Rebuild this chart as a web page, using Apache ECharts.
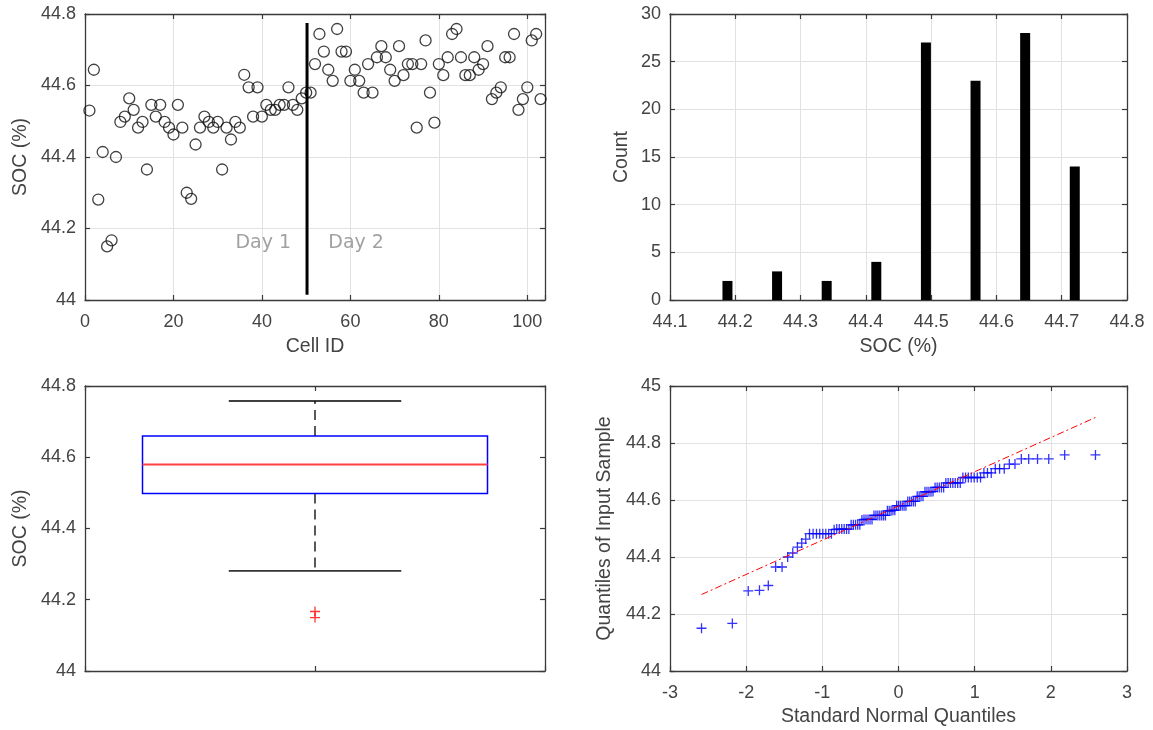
<!DOCTYPE html>
<html>
<head>
<meta charset="utf-8">
<script src="https://cdn.jsdelivr.net/npm/echarts@6/dist/echarts.min.js"></script>
<style>
html,body{margin:0;padding:0;background:#fff;}
#chart{width:1153px;height:730px;}
</style>
</head>
<body>
<div id="chart"></div>
<script>
// ---------------- DATA ----------------
// SOC (%) of each cell, Cell ID = 1..103 in order
const socValues = [
  44.530, 44.644, 44.281, 44.414, 44.150, 44.167, 44.400, 44.498, 44.513, 44.564,
  44.532, 44.482, 44.498, 44.365, 44.546, 44.513, 44.546, 44.498, 44.482, 44.463,
  44.546, 44.482, 44.300, 44.283, 44.435, 44.482, 44.513, 44.498, 44.482, 44.498,
  44.365, 44.482, 44.449, 44.498, 44.482, 44.630, 44.595, 44.513, 44.595, 44.513,
  44.546, 44.532, 44.532, 44.546, 44.546, 44.595, 44.546, 44.532, 44.564, 44.580,
  44.580, 44.660, 44.744, 44.695, 44.644, 44.613, 44.758, 44.695, 44.695, 44.613,
  44.644, 44.613, 44.580, 44.660, 44.580, 44.679, 44.710, 44.679, 44.644, 44.613,
  44.710, 44.629, 44.660, 44.660, 44.482, 44.660, 44.726, 44.580, 44.496, 44.660,
  44.629, 44.679, 44.744, 44.758, 44.679, 44.629, 44.629, 44.679, 44.644, 44.660,
  44.710, 44.562, 44.580, 44.595, 44.679, 44.679, 44.744, 44.532, 44.562, 44.595,
  44.726, 44.744, 44.562
];
// Day split marker and annotations
const daySplitX = [50.2];
const daySplitY = [44.015, 44.775];
const dayLabels = ['Day 1', 'Day 2'];
const dayLabelX = [46.6, 55.0];
const dayLabelY = [44.16, 44.16];

// Histogram (bin centres and counts)
const histCenters = [44.188, 44.264, 44.340, 44.416, 44.492, 44.568, 44.644, 44.720];
const histCounts  = [2, 3, 2, 4, 27, 23, 28, 14];

// Axis ranges / tick steps [min, max, interval]
const tlX = [0, 104, 20];
const tlY = [44, 44.8, 0.2];
const trX = [44.1, 44.8, 0.1];
const trY = [0, 30, 5];
const blY = [44, 44.8, 0.2];
const brX = [-3, 3, 1];
const brY = [44, 45, 0.2];

// Axis titles
const tlXName = 'Cell ID', tlYName = 'SOC (%)';
const trXName = 'SOC (%)', trYName = 'Count';
const blYName = 'SOC (%)';
const brXName = 'Standard Normal Quantiles', brYName = 'Quantiles of Input Sample';

// ---------------- derived (statistics of the data) ----------------
const scatterData = socValues.map((v, i) => [i + 1, v]);
const sorted = socValues.slice().sort((a, b) => a - b);
const n = sorted.length;
function prctile(p) { // MATLAB-style percentile
  let pos = p * n + 0.5;
  if (pos <= 1) return sorted[0];
  if (pos >= n) return sorted[n - 1];
  const lo = Math.floor(pos), f = pos - lo;
  return sorted[lo - 1] + f * (sorted[lo] - sorted[lo - 1]);
}
const q1 = prctile(0.25), med = prctile(0.5), q3 = prctile(0.75);
const iqr = q3 - q1;
const inside = sorted.filter(v => v >= q1 - 1.5 * iqr && v <= q3 + 1.5 * iqr);
const whiskLo = inside[0], whiskHi = inside[inside.length - 1];
const outliers = sorted.filter(v => v < q1 - 1.5 * iqr || v > q3 + 1.5 * iqr);

function norminv(p) {
  const a=[-3.969683028665376e+01,2.209460984245205e+02,-2.759285104469687e+02,1.383577518672690e+02,-3.066479806614716e+01,2.506628277459239e+00];
  const b=[-5.447609879822406e+01,1.615858368580409e+02,-1.556989798598866e+02,6.680131188771972e+01,-1.328068155288572e+01];
  const c=[-7.784894002430293e-03,-3.223964580411365e-01,-2.400758277161838e+00,-2.549671492005892e+00,4.374664141464968e+00,2.938163982698783e+00];
  const d=[7.784695709041462e-03,3.224671290700398e-01,2.445134137142996e+00,3.754408661907416e+00];
  const pl = 0.02425, ph = 1 - pl;
  let q, r;
  if (p < pl) { q = Math.sqrt(-2*Math.log(p)); return (((((c[0]*q+c[1])*q+c[2])*q+c[3])*q+c[4])*q+c[5])/((((d[0]*q+d[1])*q+d[2])*q+d[3])*q+1); }
  if (p <= ph) { q = p - 0.5; r = q*q; return (((((a[0]*r+a[1])*r+a[2])*r+a[3])*r+a[4])*r+a[5])*q/(((((b[0]*r+b[1])*r+b[2])*r+b[3])*r+b[4])*r+1); }
  q = Math.sqrt(-2*Math.log(1-p)); return -(((((c[0]*q+c[1])*q+c[2])*q+c[3])*q+c[4])*q+c[5])/((((d[0]*q+d[1])*q+d[2])*q+d[3])*q+1);
}
const qqData = sorted.map((v, i) => [norminv((i + 0.5) / n), v]);
const zq1 = norminv(0.25), zq3 = norminv(0.75);
const slope = (q3 - q1) / (zq3 - zq1);
const icpt = q1 - slope * zq1;
const zMin = qqData[0][0], zMax = qqData[n - 1][0];
const qqLine = [[zMin, icpt + slope * zMin], [zMax, icpt + slope * zMax]];

// ---------------- styling helpers ----------------
const FONT = "'Liberation Sans', Arial, sans-serif";
const TXT = '#444444';
const AX = '#3a3a3a';
const GRID = '#e2e2e2';

function mainAxis(grid, pos, r, name, nameGap, opts) {
  opts = opts || {};
  return {
    type: 'value', gridIndex: grid, position: pos,
    min: r[0], max: r[1], interval: r[2],
    name: name || '', nameLocation: 'middle', nameGap: nameGap || 30,
    nameTextStyle: { color: TXT, fontSize: 19.5, fontFamily: FONT },
    axisLine: { show: true, onZero: false, lineStyle: { color: AX, width: 1.3 } },
    axisTick: { show: true, inside: true, length: 5, lineStyle: { color: AX, width: 1.2 } },
    splitLine: { show: opts.grid !== false, lineStyle: { color: GRID, width: 1 } },
    axisLabel: {
      show: opts.labels !== false, color: TXT, fontSize: 18, fontFamily: FONT, margin: opts.margin || 9,
      formatter: opts.formatter
    }
  };
}
function mirrorAxis(grid, pos, r) {
  return {
    type: 'value', gridIndex: grid, position: pos,
    min: r[0], max: r[1], interval: r[2],
    axisLine: { show: true, onZero: false, lineStyle: { color: AX, width: 1.3 } },
    axisTick: { show: true, inside: true, length: 5, lineStyle: { color: AX, width: 1.2 } },
    splitLine: { show: false },
    axisLabel: { show: false }
  };
}

const plusPath = 'path://M0,5L10,5M5,0L5,10';
const boxX = [1];
const blX = [0, 2, 1];

const option = {
  animation: false,
  backgroundColor: '#ffffff',
  grid: [
    { left: 85, top: 14, width: 460, height: 286 },
    { left: 670, top: 14, width: 457, height: 286 },
    { left: 85, top: 386, width: 460, height: 285 },
    { left: 670, top: 386, width: 457, height: 285 }
  ],
  xAxis: [
    mainAxis(0, 'bottom', tlX, tlXName, 37, { margin: 13, formatter: v => (v % 20 === 0 ? String(v) : '') }),
    mainAxis(1, 'bottom', trX, trXName, 37, { margin: 13, formatter: v => v.toFixed(1) }),
    mainAxis(2, 'bottom', blX, '', 30, { labels: false, grid: false }),
    mainAxis(3, 'bottom', brX, brXName, 36, { margin: 13 }),
    mirrorAxis(0, 'top', tlX),
    mirrorAxis(1, 'top', trX),
    mirrorAxis(2, 'top', blX),
    mirrorAxis(3, 'top', brX)
  ],
  yAxis: [
    mainAxis(0, 'left', tlY, tlYName, 54),
    mainAxis(1, 'left', trY, trYName, 38),
    mainAxis(2, 'left', blY, blYName, 54, { grid: false }),
    mainAxis(3, 'left', brY, brYName, 55),
    mirrorAxis(0, 'right', tlY),
    mirrorAxis(1, 'right', trY),
    mirrorAxis(2, 'right', blY),
    mirrorAxis(3, 'right', brY)
  ],
  series: [
    // Top-left scatter of SOC per cell
    {
      type: 'scatter', xAxisIndex: 0, yAxisIndex: 0, data: scatterData,
      symbol: 'circle', symbolSize: 11,
      itemStyle: { color: 'rgba(0,0,0,0)', borderColor: '#111', borderWidth: 1.3 }
    },
    // Day split line
    {
      type: 'line', xAxisIndex: 0, yAxisIndex: 0,
      data: [[daySplitX[0], daySplitY[0]], [daySplitX[0], daySplitY[1]]],
      symbol: 'none', lineStyle: { color: '#000', width: 3 }
    },
    // Day labels
    {
      type: 'scatter', xAxisIndex: 0, yAxisIndex: 0, symbolSize: 0,
      data: dayLabels.map((t, i) => ({
        name: t, value: [dayLabelX[i], dayLabelY[i]],
        label: { align: i === 0 ? 'right' : 'left' }
      })),
      label: {
        show: true, position: 'inside', formatter: p => p.name, verticalAlign: 'middle',
        color: '#8a8a8a', fontSize: 19, fontFamily: "'DejaVu Sans', Verdana, sans-serif"
      }
    },
    // Histogram
    {
      type: 'bar', xAxisIndex: 1, yAxisIndex: 1, barWidth: 10,
      data: histCenters.map((c, i) => [c, histCounts[i]]),
      itemStyle: { color: '#000' }
    },
    // Box plot
    {
      type: 'custom', xAxisIndex: 2, yAxisIndex: 2,
      data: [[boxX[0], whiskLo, q1, med, q3, whiskHi]],
      encode: { x: 0, y: [1, 2, 3, 4, 5] },
      renderItem: function (params, api) {
        const x = api.value(0);
        const lo = api.value(1), b1 = api.value(2), m = api.value(3), b3 = api.value(4), hi = api.value(5);
        const bh = 0.75, ch = 0.375;
        const tl = api.coord([x - bh, b3]), br = api.coord([x + bh, b1]);
        const mL = api.coord([x - bh, m]), mR = api.coord([x + bh, m]);
        const c = api.coord([x, lo]), c1 = api.coord([x, b1]), c3 = api.coord([x, b3]), ch2 = api.coord([x, hi]);
        const capLoL = api.coord([x - ch, lo]), capLoR = api.coord([x + ch, lo]);
        const capHiL = api.coord([x - ch, hi]), capHiR = api.coord([x + ch, hi]);
        return {
          type: 'group',
          children: [
            { type: 'line', shape: { x1: c3[0], y1: c3[1], x2: ch2[0], y2: ch2[1] },
              style: { stroke: '#000', lineWidth: 1.3, lineDash: [10, 6] } },
            { type: 'line', shape: { x1: c1[0], y1: c1[1], x2: c[0], y2: c[1] },
              style: { stroke: '#000', lineWidth: 1.3, lineDash: [10, 6] } },
            { type: 'line', shape: { x1: capHiL[0], y1: capHiL[1], x2: capHiR[0], y2: capHiR[1] },
              style: { stroke: '#000', lineWidth: 1.5 } },
            { type: 'line', shape: { x1: capLoL[0], y1: capLoL[1], x2: capLoR[0], y2: capLoR[1] },
              style: { stroke: '#333', lineWidth: 1.8 } },
            { type: 'rect', shape: { x: tl[0], y: tl[1], width: br[0] - tl[0], height: br[1] - tl[1] },
              style: { fill: 'none', stroke: '#0000ff', lineWidth: 1.5 } },
            { type: 'line', shape: { x1: mL[0], y1: mL[1], x2: mR[0], y2: mR[1] },
              style: { stroke: '#ff4040', lineWidth: 2 } }
          ]
        };
      }
    },
    // Box plot outliers
    {
      type: 'scatter', xAxisIndex: 2, yAxisIndex: 2,
      data: outliers.map(v => [boxX[0], v]),
      symbol: plusPath, symbolSize: 10,
      itemStyle: { color: 'none', borderColor: '#ff0000', borderWidth: 1.3 }
    },
    // QQ reference line
    {
      type: 'line', xAxisIndex: 3, yAxisIndex: 3, data: qqLine, symbol: 'none',
      lineStyle: { color: '#ff0000', width: 1, type: [7, 3, 2, 3] }
    },
    // QQ points
    {
      type: 'scatter', xAxisIndex: 3, yAxisIndex: 3, data: qqData,
      symbol: plusPath, symbolSize: 10,
      itemStyle: { color: 'none', borderColor: '#0000ff', borderWidth: 1.3 }
    }
  ]
};

const chart = echarts.init(document.getElementById('chart'), null, { renderer: 'canvas' });
chart.setOption(option);
</script>
</body>
</html>
